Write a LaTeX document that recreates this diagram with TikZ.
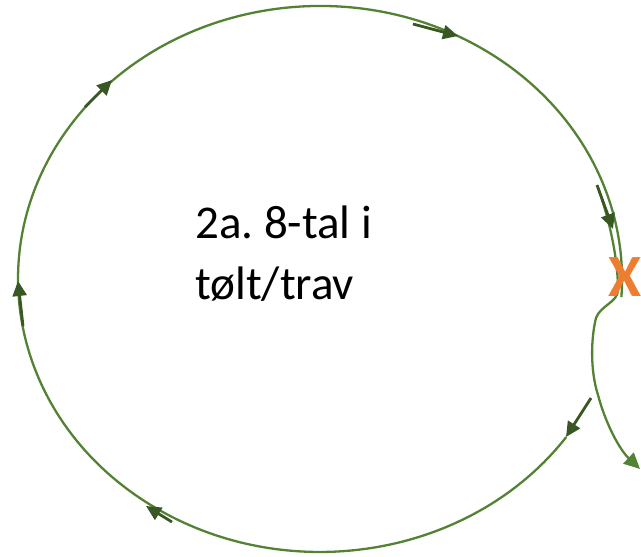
\documentclass[tikz,border=0pt]{standalone}
\usepackage{fontspec}
\setmainfont{Carlito}
\usetikzlibrary{arrows.meta}
\definecolor{loopgreen}{HTML}{548235}
\definecolor{darkgreen}{HTML}{385723}
\definecolor{xorange}{HTML}{ED7D31}
\tikzset{
  loopline/.style={draw=loopgreen, line width=2.3pt},
  dirarrow/.style={draw=darkgreen, line width=2.8pt, -{Triangle[length=15pt,width=14pt]}},
  exitline/.style={draw=loopgreen, line width=2.3pt, -{Triangle[length=16pt,width=15pt]}},
  lbl/.style={font=\fontsize{47}{61}\selectfont, inner sep=0pt, anchor=base west},
}
\begin{document}
\frenchspacing
\begin{tikzpicture}[x=1pt,y=-1pt]
\useasboundingbox (0,0) rectangle (641,557);
% open loop (ellipse arc)
\draw[loopline] (566.2,437.1) arc[start angle=35.4, end angle=363.8, x radius=302, y radius=273];
% exit curve through the X
\coordinate (s0) at (598,188);
\coordinate (s1) at (618,290);
\coordinate (s2) at (596,318);
\coordinate (s3) at (598,395);
\coordinate (s4) at (640,469);
\draw[exitline] (s0) .. controls (609,218) and (618,258) .. (s1)
  .. controls (618,302) and (600,306) .. (s2)
  .. controls (591,338) and (590,370) .. (s3)
  .. controls (606,425) and (620,450) .. (s4);
% direction arrows
\coordinate (a1s) at (413,24);  \coordinate (a1e) at (458,36);
\coordinate (a2s) at (597,185); \coordinate (a2e) at (613,229);
\coordinate (a3s) at (591,398); \coordinate (a3e) at (566,437);
\coordinate (a4s) at (172,522); \coordinate (a4e) at (146,506);
\coordinate (a5s) at (23,326);  \coordinate (a5e) at (18,281);
\coordinate (a6s) at (85,107);  \coordinate (a6e) at (112,80);
\draw[dirarrow] (a1s) -- (a1e);
\draw[dirarrow] (a2s) -- (a2e);
\draw[dirarrow] (a3s) -- (a3e);
\draw[dirarrow] (a4s) -- (a4e);
\draw[dirarrow] (a5s) -- (a5e);
\draw[dirarrow] (a6s) -- (a6e);
% texts
\node[lbl] (t1) at (195,238) {2a. 8-tal i};
\node[lbl] (t2) at (195,299) {tølt/trav};
\node[inner sep=0pt, anchor=base west, text=xorange, font=\bfseries\fontsize{60}{60}\selectfont] (x) at (608,296) {X};
\end{tikzpicture}
\end{document}
